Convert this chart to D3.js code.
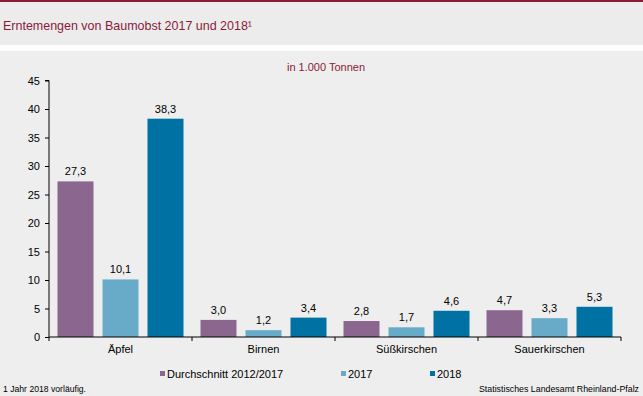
<!DOCTYPE html>
<html><head><meta charset="utf-8">
<script src="https://cdn.jsdelivr.net/npm/d3@7"></script>
<style>body{margin:0;background:#fff;}svg{display:block;font-family:"Liberation Sans",Arial,sans-serif;}</style>
</head><body>
<svg id="c" width="643" height="396"></svg>
<script>
const categories = ["Äpfel", "Birnen", "Süßkirschen", "Sauerkirschen"];
const seriesNames = ["Durchschnitt 2012/2017", "2017", "2018"];
const avg20122017 = [27.3, 3.0, 2.8, 4.7];
const y2017 = [10.1, 1.2, 1.7, 3.3];
const y2018 = [38.3, 3.4, 4.6, 5.3];
const yTicks = [0, 5, 10, 15, 20, 25, 30, 35, 40, 45];
const colors = ["#8b668f", "#67abc9", "#0071a3"];

const svg = d3.select("#c");
// backgrounds
svg.append("rect").attr("x",0).attr("y",0).attr("width",643).attr("height",396).attr("fill","#ffffff");
svg.append("rect").attr("x",0).attr("y",2).attr("width",643).attr("height",43).attr("fill","#ececec");
svg.append("rect").attr("x",0).attr("y",51).attr("width",643).attr("height",345).attr("fill","#eeeeee");
svg.append("rect").attr("x",0).attr("y",0).attr("width",643).attr("height",2).attr("fill","#8a1c32");

svg.append("text").attr("x",3).attr("y",30).attr("font-size",13).attr("fill","#8b1a3a")
  .attr("textLength",249).attr("lengthAdjust","spacingAndGlyphs")
  .text("Erntemengen von Baumobst 2017 und 2018¹");

svg.append("text").attr("x",326).attr("y",71).attr("text-anchor","middle").attr("font-size",11)
  .attr("fill","#8b1a3a").text("in 1.000 Tonnen");

const x0 = d3.scaleBand().domain(categories).range([49, 621]).paddingInner(0).paddingOuter(0);
const x1 = d3.scaleBand().domain(seriesNames).range([0, x0.bandwidth()]).paddingInner(0.2).paddingOuter(0.189);
const y = d3.scaleLinear().domain([0, 45]).range([337, 80.5]);

const data = categories.map((c,i)=>({cat:c, vals:[avg20122017[i], y2017[i], y2018[i]]}));
const fmt = v => d3.format(".1f")(v).replace(".", ",");

const g = svg.append("g");
data.forEach(d=>{
  d.vals.forEach((v,j)=>{
    const bx = x0(d.cat) + x1(seriesNames[j]);
    g.append("rect").attr("x",bx).attr("y",y(v)).attr("width",x1.bandwidth()).attr("height",y(0)-y(v)).attr("fill",colors[j]);
    g.append("text").attr("x",bx + x1.bandwidth()/2).attr("y",y(v)-6).attr("text-anchor","middle")
      .attr("font-size",11).attr("fill","#000").text(fmt(v));
  });
});

// y axis
const yAxis = d3.axisLeft(y).tickValues(yTicks).tickSize(4).tickPadding(5).tickFormat(d3.format("d"));
const ya = svg.append("g").attr("transform","translate(49,0)").call(yAxis);
ya.selectAll("text").attr("font-size",11).attr("fill","#000").attr("font-family","Liberation Sans, Arial, sans-serif");
ya.selectAll("line").attr("stroke","#000");
ya.select(".domain").attr("stroke","#000").attr("d","M-4,80.5H0V337");

// x axis
const xa = svg.append("g").attr("transform","translate(0,337)");
xa.append("line").attr("x1",49).attr("x2",621).attr("y1",0).attr("y2",0).attr("stroke","#000");
const bounds = categories.map(c=>x0(c)).concat([x0(categories[categories.length-1])+x0.bandwidth()]);
bounds.forEach(b=>xa.append("line").attr("x1",b).attr("x2",b).attr("y1",0).attr("y2",4).attr("stroke","#000"));
categories.forEach(c=>xa.append("text").attr("x",x0(c)+x0.bandwidth()/2).attr("y",16).attr("text-anchor","middle")
  .attr("font-size",11).attr("fill","#000").text(c));

// legend
const legX = [160, 341, 430];
seriesNames.forEach((s,j)=>{
  svg.append("rect").attr("x",legX[j]).attr("y",371).attr("width",5).attr("height",5).attr("fill",colors[j]);
  svg.append("text").attr("x",legX[j]+7).attr("y",378).attr("font-size",11).attr("fill","#000").text(s);
});

// footer
svg.append("text").attr("x",3).attr("y",392).attr("font-size",9).attr("fill","#000")
  .attr("textLength",83).attr("lengthAdjust","spacingAndGlyphs").text("1 Jahr 2018 vorläufig.");
svg.append("text").attr("x",639).attr("y",392).attr("font-size",9).attr("fill","#000").attr("text-anchor","end")
  .attr("textLength",160).attr("lengthAdjust","spacingAndGlyphs").text("Statistisches Landesamt Rheinland-Pfalz");
</script>
</body></html>
